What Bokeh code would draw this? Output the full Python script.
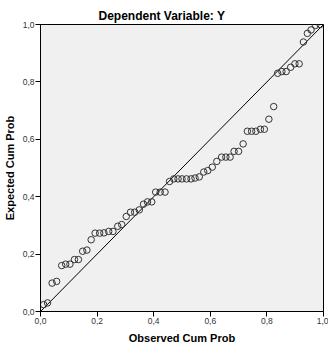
from bokeh.plotting import figure
from bokeh.models import Range1d, FixedTicker, ColumnDataSource
from bokeh.embed import file_html
from bokeh.resources import INLINE

# Normal P-P plot of regression standardized residuals
title_text = "Dependent Variable: Y"
x_label = "Observed Cum Prob"
y_label = "Expected Cum Prob"
tick_values = [0.0, 0.2, 0.4, 0.6, 0.8, 1.0]
tick_labels = ["0,0", "0,2", "0,4", "0,6", "0,8", "1,0"]

observed_cum_prob = [
    0.011, 0.025, 0.041, 0.057, 0.075, 0.089, 0.104, 0.120, 0.134, 0.149,
    0.164, 0.179, 0.193, 0.209, 0.224, 0.241, 0.256, 0.273, 0.287, 0.303,
    0.318, 0.333, 0.349, 0.364, 0.378, 0.393, 0.407, 0.423, 0.440, 0.456,
    0.471, 0.486, 0.500, 0.516, 0.532, 0.546, 0.561, 0.577, 0.591, 0.607,
    0.623, 0.640, 0.655, 0.670, 0.684, 0.700, 0.716, 0.731, 0.746, 0.761,
    0.777, 0.791, 0.807, 0.824, 0.838, 0.853, 0.868, 0.884, 0.899, 0.914,
    0.929, 0.943, 0.956, 0.972, 0.988,
]
expected_cum_prob = [
    0.024, 0.030, 0.099, 0.105, 0.160, 0.165, 0.165, 0.181, 0.181, 0.210,
    0.214, 0.250, 0.273, 0.273, 0.274, 0.279, 0.279, 0.297, 0.303, 0.331,
    0.346, 0.346, 0.354, 0.374, 0.382, 0.382, 0.416, 0.416, 0.416, 0.453,
    0.462, 0.462, 0.462, 0.462, 0.462, 0.465, 0.469, 0.486, 0.491, 0.503,
    0.523, 0.538, 0.538, 0.538, 0.558, 0.558, 0.584, 0.628, 0.628, 0.628,
    0.635, 0.635, 0.670, 0.714, 0.830, 0.836, 0.836, 0.851, 0.863, 0.863,
    0.939, 0.969, 0.981, 0.997, 1.000,
]
reference_x = [0.0, 1.0]
reference_y = [0.0, 1.0]

FONT = "Liberation Sans"

p = figure(
    width=328, height=349,
    output_backend="svg", toolbar_location=None,
    x_range=Range1d(0, 1), y_range=Range1d(0, 1),
    min_border_left=37, min_border_right=5,
    min_border_top=24, min_border_bottom=38,
    background_fill_color="#f0f0f0", border_fill_color="white",
)
p.outline_line_color = "black"
p.outline_line_width = 1
p.outline_line_alpha = 1
p.xgrid.visible = False
p.ygrid.visible = False

p.title.text = title_text
p.title.align = "left"
p.title.offset = 58
p.title.standoff = 4
p.title.text_font = FONT
p.title.text_font_size = "12px"
p.title.text_font_style = "bold"
p.title.text_color = "black"

overrides = dict(zip(tick_values, tick_labels))
for ax in (p.xaxis[0], p.yaxis[0]):
    ax.ticker = FixedTicker(ticks=tick_values)
    ax.major_label_overrides = overrides
    ax.major_tick_out = 5
    ax.major_tick_in = 0
    ax.minor_tick_out = 0
    ax.minor_tick_in = 0
    ax.axis_line_color = "black"
    ax.major_tick_line_color = "black"
    ax.major_label_text_font = FONT
    ax.major_label_text_font_size = "8.5px"
    ax.major_label_text_color = "#333333"
    ax.major_label_standoff = 1
    ax.axis_label_text_font = FONT
    ax.axis_label_text_font_size = "11px"
    ax.axis_label_text_font_style = "bold"
    ax.axis_label_text_color = "black"

p.xaxis.axis_label = x_label
p.yaxis.axis_label = y_label
p.xaxis.axis_label_standoff = 5
p.yaxis.axis_label_standoff = 4

# diagonal reference line
p.line(reference_x, reference_y, line_color="black", line_width=1)

src = ColumnDataSource(dict(x=observed_cum_prob, y=expected_cum_prob))
p.scatter("x", "y", source=src, marker="circle", size=6.5,
          fill_color=None, line_color="#333333", line_width=1)

open("out.html", "w").write(file_html(p, INLINE))
